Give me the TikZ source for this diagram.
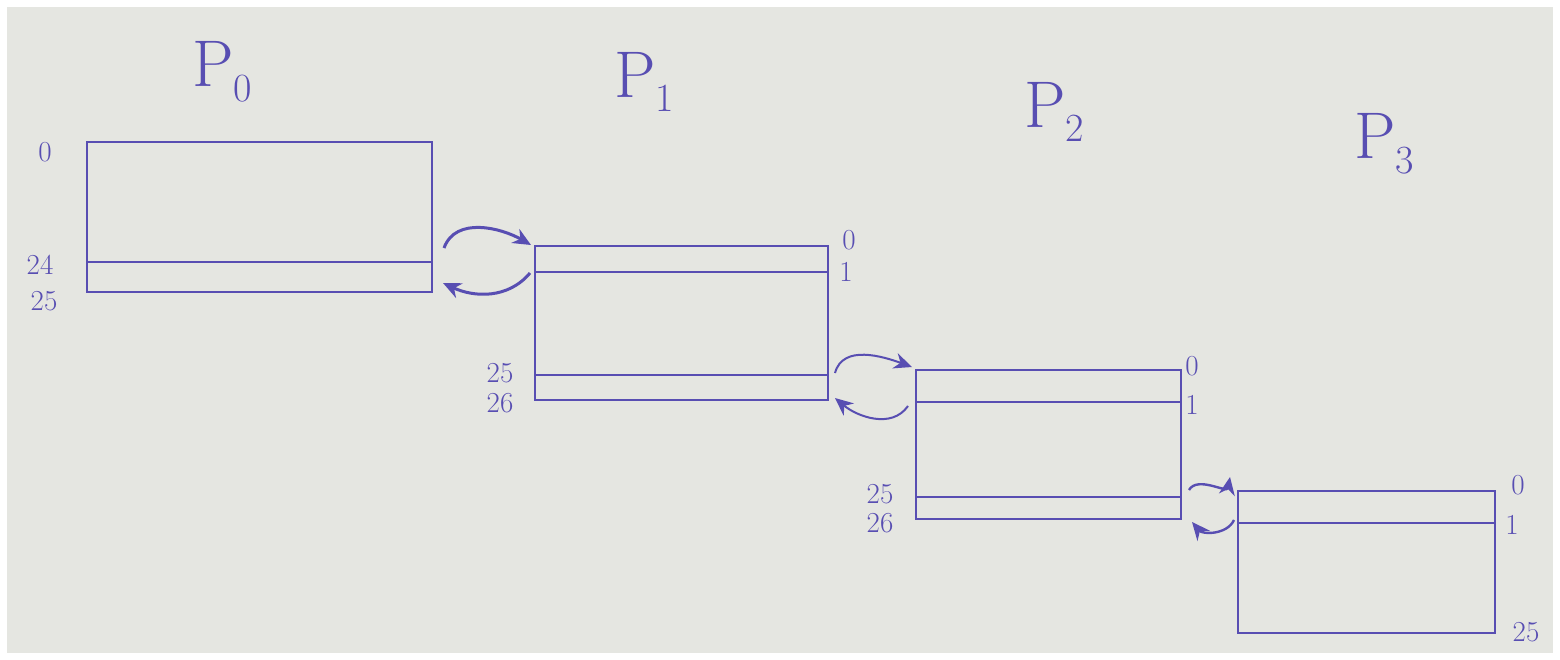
\documentclass[tikz,border=0pt]{standalone}
\usepackage{fontspec}
\usetikzlibrary{arrows.meta}
\definecolor{ink}{RGB}{88,78,178}
\definecolor{paper}{RGB}{229,230,225}
\newcommand{\proc}[1]{P\raisebox{-0.22em}{\fontsize{40}{42}\selectfont #1}}
\tikzset{
  boxline/.style={draw=ink,line width=2pt},
  lab/.style={text=ink,font=\fontsize{29}{30}\selectfont,inner sep=0pt},
  ptitle/.style={text=ink,font=\fontsize{66}{70}\selectfont,inner sep=0pt},
  swap/.style={draw=ink,line width=3pt,-{Stealth[length=18pt,width=16pt]}},
}
\begin{document}
\begin{tikzpicture}[x=1pt,y=-1pt]
\useasboundingbox (0,0) rectangle (1560,659);
\fill[white] (0,0) rectangle (1560,659);
\fill[paper] (7,7) rectangle (1553,653);

% process titles
\node[ptitle] (t0) at (222,72) {\proc{0}};
\node[ptitle] (t1) at (644,82) {\proc{1}};
\node[ptitle] (t2) at (1054,112) {\proc{2}};
\node[ptitle] (t3) at (1384,144) {\proc{3}};

% P0 block: rows 0..25
\coordinate (p0tl) at (87,142);
\coordinate (p0br) at (432,292);
\coordinate (p0rl) at (87,262);
\coordinate (p0rr) at (432,262);
\draw[boxline] (p0tl) rectangle (p0br);
\draw[boxline] (p0rl) -- (p0rr);
\node[lab] (p0l0) at (45,152) {0};
\node[lab] (p0l24) at (40,265) {24};
\node[lab] (p0l25) at (44,301) {25};

% P1 block: rows 0..26
\coordinate (p1tl) at (535,246);
\coordinate (p1br) at (828,400);
\coordinate (p1r1l) at (535,272);
\coordinate (p1r1r) at (828,272);
\coordinate (p1r25l) at (535,375);
\coordinate (p1r25r) at (828,375);
\draw[boxline] (p1tl) rectangle (p1br);
\draw[boxline] (p1r1l) -- (p1r1r);
\draw[boxline] (p1r25l) -- (p1r25r);
\node[lab] (p1l0) at (849,240) {0};
\node[lab] (p1l1) at (846,272) {1};
\node[lab] (p1l25) at (500,373) {25};
\node[lab] (p1l26) at (500,403) {26};

% P2 block: rows 0..26
\coordinate (p2tl) at (916,370);
\coordinate (p2br) at (1181,519);
\coordinate (p2r1l) at (916,402);
\coordinate (p2r1r) at (1181,402);
\coordinate (p2r25l) at (916,497);
\coordinate (p2r25r) at (1181,497);
\draw[boxline] (p2tl) rectangle (p2br);
\draw[boxline] (p2r1l) -- (p2r1r);
\draw[boxline] (p2r25l) -- (p2r25r);
\node[lab] (p2l0) at (1192,366) {0};
\node[lab] (p2l1) at (1192,405) {1};
\node[lab] (p2l25) at (880,494) {25};
\node[lab] (p2l26) at (880,523) {26};

% P3 block: rows 0..25
\coordinate (p3tl) at (1238,491);
\coordinate (p3br) at (1495,633);
\coordinate (p3r1l) at (1238,523);
\coordinate (p3r1r) at (1495,523);
\draw[boxline] (p3tl) rectangle (p3br);
\draw[boxline] (p3r1l) -- (p3r1r);
\node[lab] (p3l0) at (1518,485) {0};
\node[lab] (p3l1) at (1512,525) {1};
\node[lab] (p3l25) at (1526,632) {25};

% halo exchanges between neighbouring blocks
\coordinate (x01a) at (444,248);
\coordinate (x01b) at (531,245);
\coordinate (x01c) at (530,273);
\coordinate (x01d) at (443,283);
\draw[swap] (x01a) to[out=70,in=150] (x01b);
\draw[swap] (x01c) to[out=-130,in=-25] (x01d);

\coordinate (x12a) at (835,373);
\coordinate (x12b) at (912,367);
\coordinate (x12c) at (908,406);
\coordinate (x12d) at (835,398);
\draw[swap,line width=2pt] (x12a) to[out=75,in=160] (x12b);
\draw[swap,line width=2pt] (x12c) to[out=-125,in=-40] (x12d);

\coordinate (x23a) at (1189,490);
\coordinate (x23b) at (1230,477);
\coordinate (x23c) at (1234,520);
\coordinate (x23d) at (1192,522);
\draw[swap,line width=2.4pt] (x23a) to[out=60,in=-100] (x23b);
\draw[swap,line width=2.4pt] (x23c) to[out=-115,in=-50] (x23d);
\end{tikzpicture}
\end{document}
